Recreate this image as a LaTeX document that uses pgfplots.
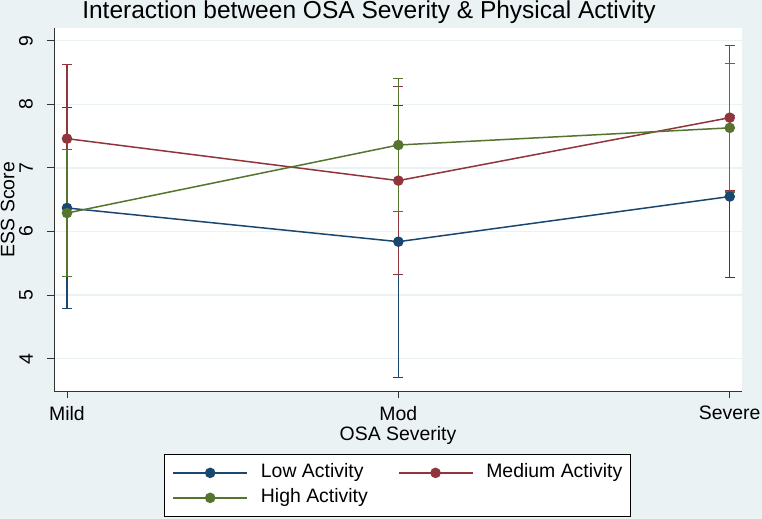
\documentclass[border=0pt]{standalone}
\usepackage{fontspec}
\setmainfont{Liberation Sans}
\usepackage{pgfplots}
\pgfplotsset{compat=1.18}

\definecolor{bgc}{HTML}{EAF2F3}
\definecolor{navyc}{HTML}{1A476F}
\definecolor{maroonc}{HTML}{90353B}
\definecolor{greenc}{HTML}{55752F}

\newcommand{\lbl}{\fontsize{19.5}{23}\selectfont}

\begin{document}
\begin{tikzpicture}
\useasboundingbox (0,0) rectangle (762bp,519bp);
\fill[bgc] (0,0) rectangle (762bp,519bp);
\node[anchor=base, font=\fontsize{24.6}{28}\selectfont] at (369bp,500bp)
  {Interaction between OSA Severity \& Physical Activity};
\begin{axis}[
	at={(54bp,128bp)}, anchor=south west,
	scale only axis,
	width=688bp, height=363bp,
	xmin=-0.0392, xmax=2.037,
	ymin=3.492, ymax=9.2,
	xtick={0,1,2},
	xticklabels={Mild,Mod,Severe},
	ytick={4,5,6,7,8,9},
	axis x line*=bottom, axis y line*=left,
	axis line style={-, draw=black!80, line width=0.9bp},
	tick align=outside,
	major tick length=7bp,
	tick style={draw=black!80, line width=0.9bp},
	axis background/.style={fill=white},
	ymajorgrids,
	grid style={draw=bgc, line width=1.2bp},
	/pgf/number format/assume math mode=true,
	ticklabel style={font=\lbl, inner sep=0pt},
	yticklabel style={rotate=90, anchor=south},
	yticklabel shift=14bp,
	xticklabel shift=8bp,
	xlabel={OSA Severity},
	ylabel={ESS Score},
	label style={font=\lbl, inner sep=0pt},
	xlabel style={at={(axis description cs:0.5,0)}, anchor=north, yshift=-35bp},
	ylabel style={at={(axis description cs:-0.0570,0.5)}, anchor=south},
	legend columns=2,
	legend cell align=left,
	legend style={
		at={(axis description cs:0.160,-0.1736)}, anchor=north west,
		draw=black, line width=0.7bp, fill=white,
		font=\lbl,
		inner xsep=8bp, inner ysep=9.5bp,
		row sep=7bp,
		nodes={inner sep=0pt, text height=14bp, text depth=4bp},
		/tikz/every odd column/.append style={column sep=13bp},
		/tikz/every even column/.append style={column sep=30bp},
	},
	legend image code/.code={
		\draw[line width=1.5bp, mark repeat=2, mark phase=2]
			plot coordinates {(0bp,0bp) (37bp,0bp) (74bp,0bp)};
	},
]
% confidence intervals
\addplot[navyc, only marks, mark=none, forget plot,
	error bars/.cd, y dir=both, y explicit,
	error bar style={line width=1.2bp, solid},
	error mark options={rotate=90, mark size=5bp, line width=1.2bp, navyc}]
	coordinates {(0,6.37) +- (0,1.58) (1,5.84) +- (0,2.14) (2,6.55) +- (0,1.27)};
\addplot[maroonc, only marks, mark=none, forget plot,
	error bars/.cd, y dir=both, y explicit,
	error bar style={line width=1.2bp, solid},
	error mark options={rotate=90, mark size=5bp, line width=1.2bp, maroonc}]
	coordinates {(0,7.46) +- (0,1.17) (1,6.80) +- (0,1.48) (2,7.79) +- (0,1.14)};
\addplot[greenc, only marks, mark=none, forget plot,
	error bars/.cd, y dir=both, y explicit,
	error bar style={line width=1.2bp, solid},
	error mark options={rotate=90, mark size=5bp, line width=1.2bp, greenc}]
	coordinates {(0,6.29) +- (0,1.00) (1,7.36) +- (0,1.05) (2,7.63) +- (0,1.01)};
% means
\addplot[navyc, line width=1.5bp, mark=*, mark size=4.5bp,
	mark options={solid, fill=navyc, draw=navyc}]
	coordinates {(0,6.37) (1,5.84) (2,6.55)};
\addplot[maroonc, line width=1.5bp, mark=*, mark size=4.5bp,
	mark options={solid, fill=maroonc, draw=maroonc}]
	coordinates {(0,7.46) (1,6.80) (2,7.79)};
\addplot[greenc, line width=1.5bp, mark=*, mark size=4.5bp,
	mark options={solid, fill=greenc, draw=greenc}]
	coordinates {(0,6.29) (1,7.36) (2,7.63)};
\legend{Low Activity, Medium Activity, High Activity}
\end{axis}
\end{tikzpicture}
\end{document}
